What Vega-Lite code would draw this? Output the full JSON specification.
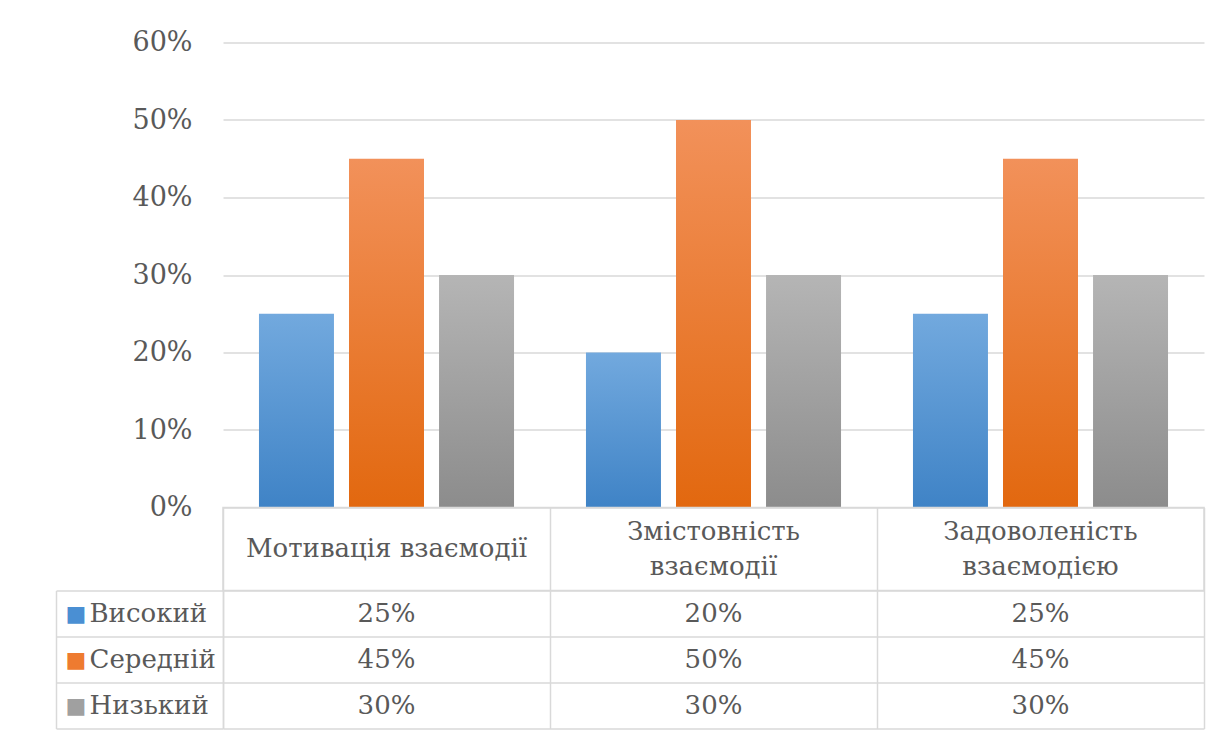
{
  "$schema": "https://vega.github.io/schema/vega-lite/v6.json",
  "padding": {"left": 55, "top": 28.5, "right": 5, "bottom": 5},
  "background": "white",
  "bounds": "flush",
  "spacing": 0,
  "config": {"view": {"stroke": null}, "font": "DejaVu Serif"},
  "datasets": {
    "d": [
      {"group": "Мотивація взаємодії", "level": "Високий", "value": 0.25},
      {"group": "Мотивація взаємодії", "level": "Середній", "value": 0.45},
      {"group": "Мотивація взаємодії", "level": "Низький", "value": 0.30},
      {"group": "Змістовність\nвзаємодії", "level": "Високий", "value": 0.20},
      {"group": "Змістовність\nвзаємодії", "level": "Середній", "value": 0.50},
      {"group": "Змістовність\nвзаємодії", "level": "Низький", "value": 0.30},
      {"group": "Задоволеність\nвзаємодією", "level": "Високий", "value": 0.25},
      {"group": "Задоволеність\nвзаємодією", "level": "Середній", "value": 0.45},
      {"group": "Задоволеність\nвзаємодією", "level": "Низький", "value": 0.30}
    ]
  },
  "vconcat": [
    {
      "width": 981,
      "height": 465,
      "data": {"name": "d"},
      "encoding": {
        "x": {"field": "group", "type": "nominal", "sort": null, "axis": null, "scale": {"paddingInner": 0.22, "paddingOuter": 0.11}},
        "xOffset": {"field": "level", "type": "nominal", "scale": {"domain": ["Високий", "Середній", "Низький"], "paddingInner": 0.167, "paddingOuter": 0}},
        "y": {
          "field": "value", "type": "quantitative",
          "scale": {"domain": [0, 0.6], "nice": false},
          "axis": {"values": [0, 0.1, 0.2, 0.3, 0.4, 0.5, 0.6], "format": ".0%", "title": null, "domain": false, "ticks": false, "grid": true, "gridColor": "#d9d9d9", "gridWidth": 1.5, "labelFontSize": 27, "labelColor": "#595959", "labelFont": "DejaVu Serif", "labelPadding": 31}
        }
      },
      "layer": [
        {"transform": [{"filter": "datum.level === 'Високий'"}], "mark": {"type": "bar", "color": {"gradient": "linear", "x1": 0, "y1": 0, "x2": 0, "y2": 1, "stops": [{"offset": 0, "color": "#72a9de"}, {"offset": 1, "color": "#3f83c6"}]}}},
        {"transform": [{"filter": "datum.level === 'Середній'"}], "mark": {"type": "bar", "color": {"gradient": "linear", "x1": 0, "y1": 0, "x2": 0, "y2": 1, "stops": [{"offset": 0, "color": "#f2915a"}, {"offset": 1, "color": "#e2680f"}]}}},
        {"transform": [{"filter": "datum.level === 'Низький'"}], "mark": {"type": "bar", "color": {"gradient": "linear", "x1": 0, "y1": 0, "x2": 0, "y2": 1, "stops": [{"offset": 0, "color": "#b5b5b5"}, {"offset": 1, "color": "#8c8c8c"}]}}}
      ]
    },
    {
      "width": 981,
      "height": 83,
      "data": {"name": "d"},
      "transform": [{"filter": "datum.level === 'Високий'"}],
      "view": {"stroke": "#d9d9d9", "strokeWidth": 1.5},
      "encoding": {
        "x": {"field": "group", "type": "nominal", "sort": null, "scale": {"paddingInner": 0, "paddingOuter": 0}, "axis": {"grid": true, "tickBand": "extent", "labels": false, "ticks": false, "domain": false, "title": null, "gridColor": "#d9d9d9", "gridWidth": 1.5}},
        "text": {"field": "group", "type": "nominal"}
      },
      "layer": [
        {
          "transform": [{"filter": "indexof(datum.group, '\\n') < 0"}],
          "mark": {"type": "text", "fontSize": 26, "color": "#595959", "baseline": "middle", "font": "DejaVu Serif"}
        },
        {
          "transform": [{"filter": "indexof(datum.group, '\\n') >= 0"}],
          "mark": {"type": "text", "fontSize": 26, "color": "#595959", "lineBreak": "\n", "lineHeight": 35, "baseline": "middle", "dy": -17.5, "font": "DejaVu Serif"}
        }
      ]
    },
    {
      "width": 981,
      "height": 138,
      "data": {"name": "d"},
      "resolve": {"axis": {"y": "independent"}},
      "layer": [
        {
          "mark": {"type": "text", "fontSize": 26, "color": "#595959", "baseline": "middle", "font": "DejaVu Serif"},
          "encoding": {
            "x": {"field": "group", "type": "nominal", "sort": null, "scale": {"paddingInner": 0, "paddingOuter": 0}, "axis": {"grid": true, "tickBand": "extent", "labels": false, "ticks": false, "domain": false, "title": null, "gridColor": "#d9d9d9", "gridWidth": 1.5}},
            "y": {
              "field": "level", "type": "nominal", "sort": ["Високий", "Середній", "Низький"],
              "scale": {"paddingInner": 0, "paddingOuter": 0},
              "axis": {"orient": "left", "title": null, "domain": true, "domainColor": "#d9d9d9", "domainWidth": 1.5, "ticks": true, "tickBand": "extent", "tickSize": 167, "tickColor": "#d9d9d9", "tickWidth": 1.5, "grid": true, "gridColor": "#d9d9d9", "gridWidth": 1.5,
                "labelExpr": "indexof(['Високий', 'Середній', 'Низький'], datum.value) >= 0 ? '■' : ''", "labelFont": "DejaVu Sans", "labelFontSize": 22, "labelAlign": "left", "labelBaseline": "middle", "labelPadding": -9,
                "labelColor": {"condition": [{"test": "datum.value === 'Високий'", "value": "#4a8fd3"}, {"test": "datum.value === 'Середній'", "value": "#ee7b30"}], "value": "#a0a0a0"}}
            },
            "text": {"field": "value", "type": "quantitative", "format": ".0%"}
          }
        },
        {
          "mark": {"type": "text", "opacity": 0},
          "encoding": {
            "y": {
              "field": "level", "type": "nominal", "sort": ["Високий", "Середній", "Низький"],
              "axis": {"orient": "left", "offset": 167, "title": null, "domain": true, "domainColor": "#d9d9d9", "domainWidth": 1.5, "ticks": false, "grid": false, "labelFont": "DejaVu Serif", "labelFontSize": 26, "labelColor": "#595959", "labelAlign": "left", "labelBaseline": "middle", "labelPadding": -33}
            },
            "text": {"value": "x"}
          }
        }
      ]
    }
  ]
}
